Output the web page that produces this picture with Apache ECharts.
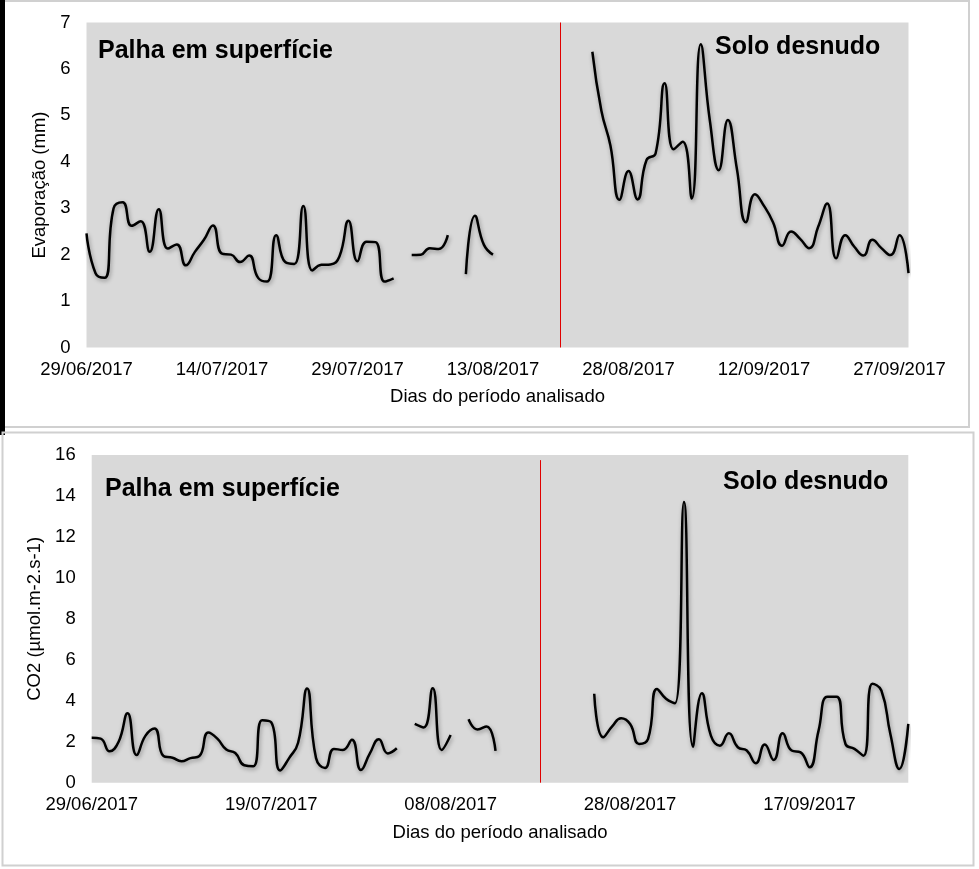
<!DOCTYPE html>
<html>
<head>
<meta charset="utf-8">
<script src="https://cdn.jsdelivr.net/npm/echarts@6/dist/echarts.min.js"></script>
<style>
html,body{margin:0;padding:0;background:#fff;}
#c{width:979px;height:869px;}
</style>
</head>
<body>
<div id="c"></div>
<script>
// ---- data (day offsets from 29/06/2017) ----
const palhaStart = 0;
const soloStart = 56;
const evapPalha = [2.46,1.6,1.5,3.0,3.13,2.62,2.72,2.06,2.98,2.13,2.22,1.77,2.06,2.32,2.63,2.02,2.0,1.84,1.98,1.5,1.42,2.42,1.84,1.8,3.05,1.66,1.78,1.79,1.96,2.73,1.86,2.28,2.27,1.42,1.49,null,1.99,2.0,2.14,2.12,2.42,null,1.58,2.84,2.21,2.0];
const evapSolo = [6.37,5.1,4.35,3.18,3.8,3.19,4.04,4.18,5.69,4.27,4.43,3.21,6.53,4.9,3.82,4.9,3.85,2.7,3.3,3.05,2.7,2.19,2.5,2.34,2.14,2.6,3.1,1.92,2.42,2.17,1.98,2.32,2.14,1.99,2.42,1.6];
const co2Palha = [2.2,2.15,1.53,2.0,3.39,1.35,2.3,2.65,1.3,1.22,1.05,1.2,1.3,2.45,2.15,1.62,1.45,0.85,0.8,3.05,2.95,0.6,1.2,1.95,4.6,1.2,0.72,1.65,1.6,2.1,0.62,1.43,2.12,1.43,1.68,null,2.87,2.7,4.61,1.6,2.33,null,3.1,2.6,2.75,1.55];
const co2Solo = [4.34,2.22,2.75,3.15,2.87,1.89,2.14,4.58,4.1,3.88,13.71,1.76,4.37,2.3,1.81,2.41,1.73,1.57,0.95,1.86,1.11,2.41,1.57,1.48,0.75,2.54,4.2,4.2,1.89,1.65,1.32,4.83,4.5,2.38,0.67,2.87];
const topTicks = ['29/06/2017','14/07/2017','29/07/2017','13/08/2017','28/08/2017','12/09/2017','27/09/2017'];
const bottomTicks = ['29/06/2017','19/07/2017','08/08/2017','28/08/2017','17/09/2017'];
const topDivider = [52.5];
const bottomDivider = [50];

const FONT = '"Liberation Sans", Arial, sans-serif';
function pts(start, arr){ return arr.map((v,i)=>[start+i, v]); }

function xAxisCfg(idx, ticks, step){
  return {
    type:'value', gridIndex: idx, min:0, max:91, interval: step,
    axisLine:{show:false}, axisTick:{show:false}, splitLine:{show:false},
    axisLabel:{color:'#000', fontSize:18.5, fontFamily:FONT, margin:13,
      formatter: v => (v % step === 0 && ticks[v/step]) ? ticks[v/step] : ''},
    name:'Dias do período analisado', nameLocation:'middle',
    nameGap: idx===0 ? 40 : 41,
    nameTextStyle:{color:'#000', fontSize:18.5, fontFamily:FONT}
  };
}
function yAxisCfg(idx, max, step, name, gap){
  return {
    type:'value', gridIndex: idx, min:0, max:max, interval:step,
    axisLine:{show:false}, axisTick:{show:false}, splitLine:{show:false},
    axisLabel:{color:'#000', fontSize:18.5, fontFamily:FONT, margin:16},
    name:name, nameLocation:'middle', nameGap:gap, nameRotate:90,
    nameTextStyle:{color:'#000', fontSize:18.5, fontFamily:FONT}
  };
}
const lineStyle = {color:'#000', width:2.5, shadowColor:'rgba(0,0,0,0.35)', shadowBlur:4, shadowOffsetX:1, shadowOffsetY:2};
function lineSeries(x, y, data, divider){
  const s = {type:'line', xAxisIndex:x, yAxisIndex:y, data:data, smooth:0.5,
    symbol:'none', showSymbol:false, connectNulls:false, lineStyle:lineStyle, silent:true, z:3};
  if (divider) s.markLine = divider;
  return s;
}
const redLine = {color:'#e00000', width:1, type:'solid', shadowBlur:0};

const chart = echarts.init(document.getElementById('c'), null, {renderer:'canvas'});
chart.setOption({
  animation:false,
  backgroundColor:'#fff',
  grid:[
    {left:86.5, top:22.5, width:822, height:325, show:true, backgroundColor:'#d9d9d9', borderWidth:0},
    {left:91.7, top:455, width:816.6, height:327.7, show:true, backgroundColor:'#d9d9d9', borderWidth:0}
  ],
  xAxis:[ xAxisCfg(0, topTicks, 15), xAxisCfg(1, bottomTicks, 20) ],
  yAxis:[ yAxisCfg(0, 7, 1, 'Evaporação (mm)', 30), yAxisCfg(1, 16, 2, 'CO2 (µmol.m-2.s-1)', 37) ],
  series:[
    lineSeries(0,0, pts(palhaStart, evapPalha), {silent:true, symbol:['none','none'], label:{show:false}, lineStyle:redLine,
      data:[{xAxis: topDivider[0]}]}),
    lineSeries(0,0, pts(soloStart, evapSolo)),
    lineSeries(1,1, pts(palhaStart, co2Palha), {silent:true, symbol:['none','none'], label:{show:false}, lineStyle:redLine,
      data:[[{coord:[bottomDivider[0], 15.75]},{coord:[bottomDivider[0], 0]}]]}),
    lineSeries(1,1, pts(soloStart, co2Solo))
  ],
  graphic:[
    {type:'rect', shape:{x:0, y:0, width:5, height:435}, style:{fill:'#000'}, z:10},
    {type:'line', shape:{x1:5, y1:1, x2:970, y2:1}, style:{stroke:'#d0d0d0', lineWidth:2}, z:10},
    {type:'line', shape:{x1:969, y1:0, x2:969, y2:428}, style:{stroke:'#d0d0d0', lineWidth:2}, z:10},
    {type:'line', shape:{x1:5, y1:427, x2:970, y2:427}, style:{stroke:'#d0d0d0', lineWidth:2}, z:10},
    {type:'rect', shape:{x:2.5, y:432.5, width:971, height:433}, style:{fill:'none', stroke:'#d0d0d0', lineWidth:2}, z:10},
    {type:'text', x:98, y:51, style:{text:'Palha em superfície', fill:'#000', font:'bold 25px '+FONT, align:'left', verticalAlign:'middle'}, z:20},
    {type:'text', x:715, y:47, style:{text:'Solo desnudo', fill:'#000', font:'bold 25px '+FONT, align:'left', verticalAlign:'middle'}, z:20},
    {type:'text', x:105, y:489, style:{text:'Palha em superfície', fill:'#000', font:'bold 25px '+FONT, align:'left', verticalAlign:'middle'}, z:20},
    {type:'text', x:723, y:482, style:{text:'Solo desnudo', fill:'#000', font:'bold 25px '+FONT, align:'left', verticalAlign:'middle'}, z:20}
  ]
});
</script>
</body>
</html>
